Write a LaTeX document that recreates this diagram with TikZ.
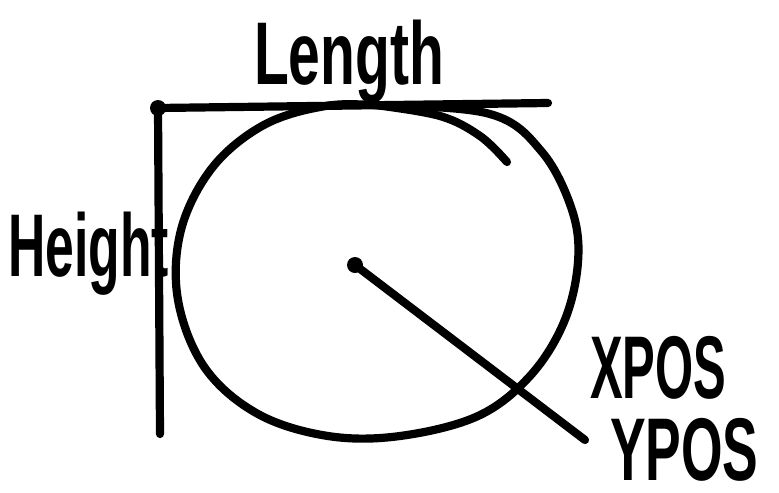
\documentclass[tikz,border=0pt]{standalone}
\usepackage{fontspec}
\setmainfont{Liberation Sans}
\usepackage{tikz}
\usetikzlibrary{positioning,calc}
\colorlet{Ink}{black}

\begin{document}
\begin{tikzpicture}[x=0.03cm,y=-0.03cm,
      trait/.style={draw=Ink,line width=7pt,line cap=round,line join=round},
      point/.style={circle,fill=Ink,inner sep=0pt,minimum size=0.48cm},
      mot/.style={inner sep=0pt,text=Ink,font=\fontsize{76}{76}\selectfont\bfseries},
      capit/.style={mot,text height=55pt,text depth=0pt}
    ]
    \useasboundingbox (0,0) rectangle (779,492);
    % Le cercle est un seul tracé fermé, puis un petit trait le prolonge en haut.
    \draw[trait] plot[smooth cycle,tension=0.6] coordinates {
      (375,105) (490,114) (542,152) (572,210) (578,262) (564,322)
      (530,376) (478,416) (400,436) (328,436) (258,414) (205,368)
      (178,300) (181,230) (212,168) (262,126) (320,107)};
    \draw[trait] plot[smooth,tension=0.6] coordinates {
      (375,105) (440,116) (480,136) (507,162)};

    \node[point] (coin) at (158,108) {};
    \coordinate (droite) at (548,103);
    \coordinate (bas) at (160,434);
    \draw[trait] (coin.center) -- (droite);
    \draw[trait] (coin.center) -- (bas);

    \node[point] (centre) at (355,265) {};
    \coordinate (bout) at (585,440);
    \draw[trait] (centre.center) -- (bout);

    \node[mot,anchor=base west,xscale=0.64] (longueur) at (254,84) {Length};
    \node[mot,anchor=base west,xscale=0.58] (hauteur) at (8,276) {Height};
    \node[capit,anchor=base west,xscale=0.55] (xpos) at (590,398) {XPOS};
    \node[capit,anchor=base west,xscale=0.60] (ypos) at (610,480) {YPOS};
  \end{tikzpicture}
\end{document}
